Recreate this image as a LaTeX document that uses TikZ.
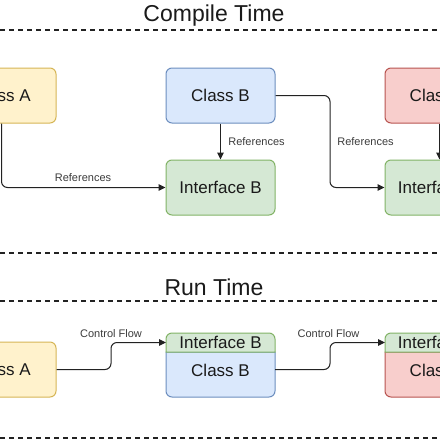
\documentclass[tikz,border=0pt]{standalone}
\usepackage{fontspec}
\setmainfont{Liberation Sans}
\usetikzlibrary{arrows.meta}
\definecolor{yelF}{HTML}{FFF2CC}\definecolor{yelD}{HTML}{D6B656}
\definecolor{bluF}{HTML}{DAE8FC}\definecolor{bluD}{HTML}{6C8EBF}
\definecolor{grnF}{HTML}{D5E8D4}\definecolor{grnD}{HTML}{82B366}
\definecolor{redF}{HTML}{F8CECC}\definecolor{redD}{HTML}{B85450}
\definecolor{txt}{HTML}{1A1A1A}
\definecolor{ln}{HTML}{222222}
\tikzset{
  box/.style={rectangle, rounded corners=6pt, minimum width=109pt, minimum height=55pt, inner sep=0pt, line width=1pt,
    font=\fontsize{17}{17}\selectfont, text=txt, text height=12.2pt, text depth=0pt},
  yelbox/.style={box, fill=yelF, draw=yelD},
  blubox/.style={box, fill=bluF, draw=bluD},
  grnbox/.style={box, fill=grnF, draw=grnD},
  redbox/.style={box, fill=redF, draw=redD},
  boxtext/.style={inner sep=0pt, font=\fontsize{17}{17}\selectfont, text=txt, text height=12.2pt, text depth=0pt},
  lbl/.style={inner sep=0pt, font=\fontsize{11}{11}\selectfont, text=txt!85, text height=7.9pt, text depth=0pt},
  ttl/.style={inner sep=0pt, font=\fontsize{23}{23}\selectfont, text=txt, text height=16.5pt, text depth=0pt},
  arr/.style={draw=ln, line width=1pt, rounded corners=6pt, -{Triangle[length=7pt,width=6.5pt]}},
  sep/.style={draw=ln, line width=1.2pt, dash pattern=on 5pt off 4pt},
  part/.style={line width=1pt},
}
\begin{document}
\begin{tikzpicture}[x=1pt,y=-1pt]
\useasboundingbox (0,0) rectangle (440,440);
\fill[white] (0,0) rectangle (440,440);
\clip (0,0) rectangle (440,440);

% titles and separators
\node[ttl] (tc) at (214,13) {Compile Time};
\node[ttl] (tr) at (214,287.5) {Run Time};
\coordinate (s1a) at (0,30);  \coordinate (s1b) at (440,30);
\coordinate (s2a) at (0,253); \coordinate (s2b) at (440,253);
\coordinate (s3a) at (0,301); \coordinate (s3b) at (440,301);
\coordinate (s4a) at (0,438); \coordinate (s4b) at (440,438);
\draw[sep] (s1a) -- (s1b);
\draw[sep] (s2a) -- (s2b);
\draw[sep] (s3a) -- (s3b);
\draw[sep] (s4a) -- (s4b);

% compile time
\node[yelbox] (cA) at (1.5,95.5) {Class A};
\node[blubox] (cB) at (220.5,95.5) {Class B};
\node[redbox] (cC) at (439.5,95.5) {Class C};
\node[grnbox] (iB) at (220.5,187.5) {Interface B};
\node[grnbox] (iC) at (439.5,187.5) {Interface C};

\draw[arr] (cA.south) |- (iB.west);
\node[lbl] (l1) at (83,178) {References};
\draw[arr] (cB.south) -- (iB.north);
\node[lbl] (l2) at (256.5,141.5) {References};
\coordinate (k1) at (330,95.5);
\draw[arr] (cB.east) -- (k1) |- (iC.west);
\node[lbl] (l3) at (365.5,141.5) {References};
\draw[arr] (cC.south) -- (iC.north);

% run time
\node[yelbox] (rA) at (1.5,369.5) {Class A};

% Interface B / Class B container
\draw[part, draw=bluD, fill=bluF]
  (166,352) [rounded corners=6pt] -- (166,397) -- (275,397) [sharp corners] -- (275,352) -- cycle;
\draw[part, draw=grnD, fill=grnF]
  (166,352) [rounded corners=6pt] -- (166,333) -- (275,333) [sharp corners] -- (275,352) -- cycle;
\node[boxtext] (rBh) at (220.5,342.5) {Interface B};
\node[boxtext] (rBb) at (220.5,370) {Class B};

% Interface C / Class C container
\draw[part, draw=redD, fill=redF]
  (385,352) [rounded corners=6pt] -- (385,397) -- (494,397) [sharp corners] -- (494,352) -- cycle;
\draw[part, draw=grnD, fill=grnF]
  (385,352) [rounded corners=6pt] -- (385,333) -- (494,333) [sharp corners] -- (494,352) -- cycle;
\node[boxtext] (rCh) at (439.5,342.5) {Interface C};
\node[boxtext] (rCb) at (439.5,370) {Class C};

\coordinate (e1) at (166,342.5);
\coordinate (b1) at (275,369.5);
\coordinate (e2) at (385,342.5);
\coordinate (m1) at (111,369.5);
\coordinate (m2) at (111,342.5);
\draw[arr] (rA.east) -- (m1) -- (m2) -- (e1);
\node[lbl] (l4) at (111,334) {Control Flow};
\coordinate (m3) at (330,369.5);
\coordinate (m4) at (330,342.5);
\draw[arr] (b1) -- (m3) -- (m4) -- (e2);
\node[lbl] (l5) at (328.5,334) {Control Flow};
\end{tikzpicture}
\end{document}
